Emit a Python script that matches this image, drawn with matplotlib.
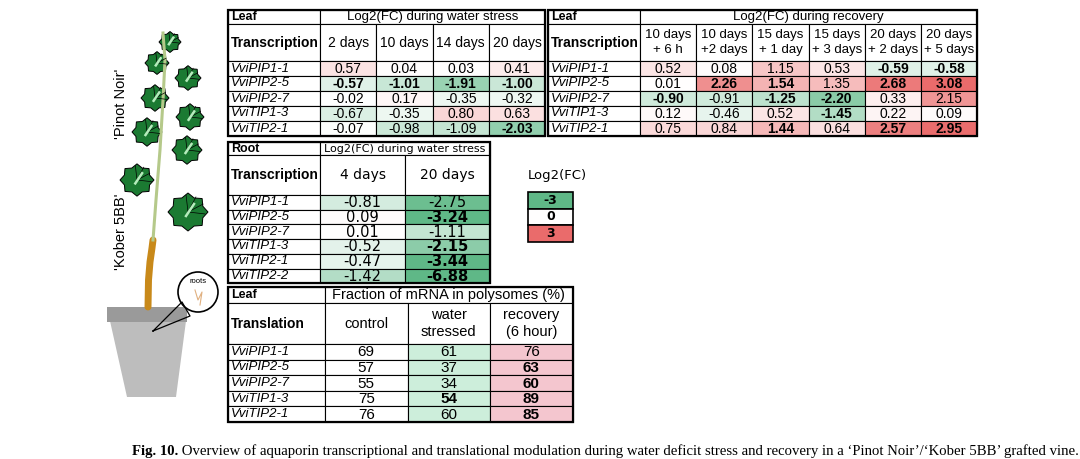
import matplotlib
matplotlib.use("Agg")
import matplotlib.pyplot as plt
import numpy as np
from matplotlib.patches import Rectangle, Polygon, Circle
from matplotlib.colors import LinearSegmentedColormap, Normalize

genes5 = ["VviPIP1-1", "VviPIP2-5", "VviPIP2-7", "VviTIP1-3", "VviTIP2-1"]
genes_root = ["VviPIP1-1", "VviPIP2-5", "VviPIP2-7", "VviTIP1-3", "VviTIP2-1", "VviTIP2-2"]
stress_cols = ["2 days", "10 days", "14 days", "20 days"]
stress_vals = [[0.57, 0.04, 0.03, 0.41],
               [-0.57, -1.01, -1.91, -1.00],
               [-0.02, 0.17, -0.35, -0.32],
               [-0.67, -0.35, 0.80, 0.63],
               [-0.07, -0.98, -1.09, -2.03]]
stress_bold = [[0, 0, 0, 0], [1, 1, 1, 1], [0, 0, 0, 0], [0, 0, 0, 0], [0, 0, 0, 1]]
rec_cols = ["10 days\n+ 6 h", "10 days\n+2 days", "15 days\n+ 1 day", "15 days\n+ 3 days", "20 days\n+ 2 days", "20 days\n+ 5 days"]
rec_vals = [[0.52, 0.08, 1.15, 0.53, -0.59, -0.58],
            [0.01, 2.26, 1.54, 1.35, 2.68, 3.08],
            [-0.90, -0.91, -1.25, -2.20, 0.33, 2.15],
            [0.12, -0.46, 0.52, -1.45, 0.22, 0.09],
            [0.75, 0.84, 1.44, 0.64, 2.57, 2.95]]
rec_bold = [[0, 0, 0, 0, 1, 1], [0, 1, 1, 0, 1, 1], [1, 0, 1, 1, 0, 0], [0, 0, 0, 1, 0, 0], [0, 0, 1, 0, 1, 1]]
root_cols = ["4 days", "20 days"]
root_vals = [[-0.81, -2.75], [0.09, -3.24], [0.01, -1.11], [-0.52, -2.15], [-0.47, -3.44], [-1.42, -6.88]]
root_bold = [[0, 0], [0, 1], [0, 0], [0, 1], [0, 1], [0, 1]]
legend_vals = [-3, 0, 3]
tr_cols = ["control", "water\nstressed", "recovery\n(6 hour)"]
tr_vals = [[69, 61, 76], [57, 37, 63], [55, 34, 60], [75, 54, 89], [76, 60, 85]]
tr_bold = [[0, 0, 0], [0, 0, 1], [0, 0, 1], [0, 1, 1], [0, 0, 1]]
tr_colors = ["white", "#cdeedb", "#f4c6cf"]

cmap = LinearSegmentedColormap.from_list("gwr", ["#5fb887", "#ffffff", "#ea6b6b"])
norm = Normalize(-3, 3)

fig = plt.figure(figsize=(10.8, 4.59), dpi=100)
ax = fig.add_axes([0, 0, 1, 1])
ax.set_xlim(0, 1080); ax.set_ylim(459, 0); ax.axis("off")
F = "Liberation Sans"

def cell(x0, y0, w, h, fc="white", lw=0.8):
    ax.add_patch(Rectangle((x0, y0), w, h, fc=fc, ec="black", lw=lw))

def table(x0, y0, labw, colw, h1, h2, rh, title, sub, head, cols, rows, vals, bold, colors, fmt,
          fs=10, vfont=F, vfs=10, hfont=F, hfs=9.5):
    ncol = len(cols)
    W = labw + colw * ncol
    cell(x0, y0, labw, h1); cell(x0 + labw, y0, colw * ncol, h1)
    ax.text(x0 + 3, y0 + h1 / 2, title, fontsize=9, fontweight="bold", family=F, va="center")
    ax.text(x0 + labw + colw * ncol / 2, y0 + h1 / 2, head, fontsize=hfs, family=hfont, va="center", ha="center")
    y = y0 + h1
    cell(x0, y, labw, h2)
    ax.text(x0 + 3, y + h2 / 2, sub, fontsize=10, fontweight="bold", family=F, va="center")
    for j, c in enumerate(cols):
        cell(x0 + labw + j * colw, y, colw, h2)
        ax.text(x0 + labw + (j + 0.5) * colw, y + h2 / 2, c, fontsize=fs, family=hfont, ha="center", va="center", linespacing=1.3)
    y += h2
    for i, g in enumerate(rows):
        yy = y + i * rh
        cell(x0, yy, labw, rh)
        ax.text(x0 + 3, yy + rh / 2, g, fontsize=9.5, family=F, style="italic", va="center")
        for j in range(ncol):
            cell(x0 + labw + j * colw, yy, colw, rh, fc=colors(i, j))
            ax.text(x0 + labw + (j + 0.5) * colw, yy + rh / 2 + 0.5, fmt(vals[i][j]), fontsize=vfs,
                    family=vfont, ha="center", va="center", fontweight="bold" if bold[i][j] else "normal")
    ax.add_patch(Rectangle((x0, y0), W, h1 + h2 + rh * len(rows), fill=False, ec="black", lw=1.6))

f2 = lambda v: f"{v:.2f}"
table(228, 10, 92, 56.3, 14, 37, 15, "Leaf", "Transcription", "Log2(FC) during water stress",
      stress_cols, genes5, stress_vals, stress_bold, lambda i, j: cmap(norm(stress_vals[i][j])), f2)
table(548, 10, 92, 56.2, 14, 37, 15, "Leaf", "Transcription", "Log2(FC) during recovery",
      rec_cols, genes5, rec_vals, rec_bold, lambda i, j: cmap(norm(rec_vals[i][j])), f2, fs=9.5)
table(228, 142, 92, 85, 13, 40, 14.7, "Root", "Transcription", "Log2(FC) during water stress",
      root_cols, genes_root, root_vals, root_bold, lambda i, j: cmap(norm(root_vals[i][j])), f2,
      vfont="DejaVu Sans", vfs=10.5, hfont="DejaVu Sans", fs=10, hfs=8)
table(228, 287, 97, 82.5, 16, 41, 15.6, "Leaf", "Translation", "Fraction of mRNA in polysomes (%)",
      tr_cols, genes5, tr_vals, tr_bold, lambda i, j: tr_colors[j], lambda v: f"{v}", vfs=11, fs=10.5, hfs=10.5)

# legend
ax.text(557, 175, "Log2(FC)", fontsize=9.5, family="DejaVu Sans", ha="center", va="center")
for k, v in enumerate(legend_vals):
    yy = 192 + k * 16.5
    ax.add_patch(Rectangle((528, yy), 45, 16.5, fc=cmap(norm(v)), ec="black", lw=1.2))
    ax.text(550.5, yy + 8.5, str(v), fontsize=9, fontweight="bold", ha="center", va="center", family="DejaVu Sans")

# plant drawing
ax.add_patch(Polygon([[110, 321], [186, 321], [176, 397], [127, 397]], fc="#bdbdbd", ec="none"))
ax.add_patch(Rectangle((107, 307), 80, 15, fc="#9a9a9a", ec="none"))
ax.plot([148, 148.5, 150, 152, 153], [307, 280, 262, 248, 240], color="#c8891a", lw=5, solid_capstyle="round")
ax.plot([153, 156, 160, 163, 165, 163], [240, 200, 150, 100, 60, 33], color="#b5c98a", lw=2.2)
leaves = [(170, 42, 11), (157, 63, 12), (188, 78, 13), (155, 98, 14), (190, 117, 14), (147, 132, 15),
          (187, 150, 15), (137, 180, 17), (188, 212, 20)]
for (lx, ly, r) in leaves:
    ang = np.linspace(0, 2 * np.pi, 16, endpoint=False)
    rr = np.where(np.arange(16) % 2 == 0, r, r * 0.8)
    pts = np.c_[lx + rr * np.cos(ang), ly + rr * np.sin(ang) * 0.95]
    ax.add_patch(Polygon(pts, fc="#1b7a32", ec="black", lw=0.7))
    for a in np.linspace(-0.9, 0.9, 4):
        ax.plot([lx, lx + r * 0.85 * np.cos(a + np.pi / 4)], [ly, ly - r * 0.85 * np.sin(a + np.pi / 4)], color="black", lw=0.5)
    ax.plot([lx - r * 0.1, lx + r * 0.3], [ly + r * 0.2, ly - r * 0.4], color="#b5ecbc", lw=1.8)
ax.add_patch(Circle((198, 292), 20, fc="white", ec="black", lw=1.2))
ax.text(198, 283, "roots", fontsize=5.5, ha="center", family=F)
ax.plot([195, 198, 202, 200], [290, 300, 292, 305], color="#e0b080", lw=0.8)
ax.plot([153, 182, 190, 153], [331, 302, 316, 331], color="black", lw=0.9)
ax.text(121, 104, "'Pinot Noir'", rotation=90, fontsize=10.5, family=F, ha="center", va="center")
ax.text(121, 232, "'Kober 5BB'", rotation=90, fontsize=10.5, family=F, ha="center", va="center")

t = ax.text(132, 451, "Fig. 10.", fontsize=10.6, fontweight="bold", family="Liberation Serif", va="center")
fig.canvas.draw()
bb = t.get_window_extent()
ax.annotate(" Overview of aquaporin transcriptional and translational modulation during water deficit stress and recovery in a ‘Pinot Noir’/‘Kober 5BB’ grafted vine.",
            xy=(bb.x1, bb.y0), xycoords="figure pixels", fontsize=10.6, family="Liberation Serif", va="bottom")
fig.savefig("out.png", dpi=100)
